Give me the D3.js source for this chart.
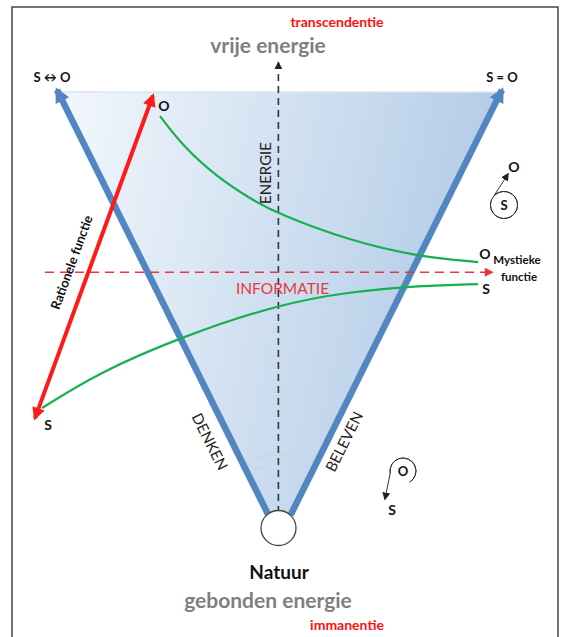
<!DOCTYPE html>
<html lang="nl">
<head>
    <meta charset="UTF-8">
    <title>Natuur - vrije en gebonden energie</title>
    <script src="https://d3js.org/d3.v7.min.js"></script>
    <style>
        body { margin: 0; background: #fff; }
        svg { display: block; font-family: Lato, "Open Sans", sans-serif; }
    </style>
</head>
<body>
    <svg width="563" height="637"></svg>

    <script>
        // Diagram units: u runs -1 (left tip) .. 1 (right tip), v runs 0 (Natuur) .. 1 (top)
        const topTitles = ["transcendentie", "vrije energie"];
        const bottomTitles = ["Natuur", "gebonden energie", "immanentie"];
        const cornerLabels = ["S \u2194 O", "S = O"];
        const sideLabels = ["DENKEN", "BELEVEN"];
        const axisLabels = ["ENERGIE", "INFORMATIE"];
        const functionLabels = ["Rationele functie", "Mystieke", "functie"];

        // green curves (u, v)
        const objectCurve = [
            [-0.537, 0.943], [-0.434, 0.872], [-0.281, 0.799], [-0.133, 0.748], [-0.007, 0.712],
            [0.317, 0.648], [0.631, 0.610], [0.892, 0.598]
        ];
        const subjectCurve = [
            [-1.067, 0.253], [-0.807, 0.338], [-0.447, 0.420], [-0.007, 0.498],
            [0.317, 0.528], [0.631, 0.542], [0.892, 0.546]
        ];
        // rational function arrow (S end, O end)
        const rationalArrow = [[-1.099, 0.229], [-0.569, 0.991]];
        const informationLevel = 0.574;
        const energyTop = 1.069;

        const svg = d3.select("svg");
        const x = d3.scaleLinear().domain([-1, 1]).range([57, 502]);
        const y = d3.scaleLinear().domain([0, 1]).range([515, 92]);

        const defs = svg.append("defs");
        const grad = defs.append("linearGradient").attr("id", "cone")
            .attr("x1", "0%").attr("x2", "100%").attr("y1", "0%").attr("y2", "20%");
        grad.append("stop").attr("offset", "0%").attr("stop-color", "#f3f8fc");
        grad.append("stop").attr("offset", "100%").attr("stop-color", "#b2cbe7");

        function marker(id, color, w, h) {
            defs.append("marker").attr("id", id)
                .attr("viewBox", "0 0 10 10").attr("refX", 8).attr("refY", 5)
                .attr("markerWidth", w).attr("markerHeight", h)
                .attr("markerUnits", "userSpaceOnUse")
                .attr("orient", "auto-start-reverse")
                .append("path").attr("d", "M0,0L10,5L0,10z").attr("fill", color);
        }
        marker("blueHead", "#5286c0", 17, 15);
        marker("redHead", "#ff1a1a", 14, 13);
        marker("blackHead", "#222", 8, 8);
        marker("dashHead", "#e8383c", 10, 9);

        // frame
        svg.append("rect").attr("x", 12).attr("y", 7).attr("width", 546).attr("height", 700)
            .attr("fill", "none").attr("stroke", "#444").attr("stroke-width", 1.5);

        // cone
        const line = d3.line().x(d => x(d[0])).y(d => y(d[1]));
        svg.append("path").attr("d", line([[-1, 1], [1, 1], [0.05, 0], [-0.05, 0]]) + "Z")
            .attr("fill", "url(#cone)");
        svg.append("path").attr("d", line([[-1, 1], [1, 1]]))
            .attr("stroke", "#dde4ec").attr("stroke-width", 1.5);

        // faint ellipse
        svg.append("ellipse").attr("cx", x(0)).attr("cy", y(0.125)).attr("rx", 33).attr("ry", 7)
            .attr("fill", "none").attr("stroke", "#c9d3de").attr("stroke-width", 1.2).attr("opacity", 0.7);

        // energy axis (dashed black)
        svg.append("path").attr("d", line([[-0.005, 0.005], [-0.005, energyTop]]))
            .attr("stroke", "#333").attr("stroke-width", 1.6).attr("stroke-dasharray", "7,5")
            .attr("marker-end", "url(#blackHead)");

        // blue side arrows
        [[-0.05, -1], [0.05, 1]].forEach(([foot, tip]) => {
            svg.append("path").attr("d", line([[foot, 0], [tip, 1.005]]))
                .attr("stroke", "#5286c0").attr("stroke-width", 6.5)
                .attr("marker-end", "url(#blueHead)");
        });

        // information level (red dashed)
        svg.append("path").attr("d", line([[-1.054, informationLevel], [0.955, informationLevel]]))
            .attr("stroke", "#e8383c").attr("stroke-width", 1.4).attr("stroke-dasharray", "9,6")
            .attr("fill", "none").attr("marker-end", "url(#dashHead)");

        // green curves
        const curve = d3.line().x(d => x(d[0])).y(d => y(d[1])).curve(d3.curveBasis);
        [objectCurve, subjectCurve].forEach(pts => {
            svg.append("path").attr("d", curve(pts)).attr("fill", "none")
                .attr("stroke", "#16b04e").attr("stroke-width", 2.2);
        });

        // red rational arrow
        svg.append("path").attr("d", line(rationalArrow))
            .attr("stroke", "#ff1a1a").attr("stroke-width", 4)
            .attr("marker-start", "url(#redHead)").attr("marker-end", "url(#redHead)");

        // Natuur circle
        svg.append("circle").attr("cx", x(0) - 1).attr("cy", y(0) + 13).attr("r", 17.5)
            .attr("fill", "#fff").attr("stroke", "#444").attr("stroke-width", 1.3);

        function label(txt, px, py, opts) {
            const o = Object.assign({ size: 13, color: "#111", weight: "bold", anchor: "middle", rotate: 0 }, opts || {});
            return svg.append("text")
                .attr("transform", `translate(${px},${py}) rotate(${o.rotate})`)
                .attr("text-anchor", o.anchor)
                .attr("font-size", o.size).attr("font-weight", o.weight)
                .attr("fill", o.color).text(txt);
        }

        // titles
        label(topTitles[0], 337, 27, { size: 14, color: "#ff1010" });
        label(topTitles[1], 268, 53, { size: 21, color: "#7f7f7f" });
        label(bottomTitles[0], 279, 579, { size: 19, color: "#111" });
        label(bottomTitles[1], 268, 608, { size: 21, color: "#7f7f7f" });
        label(bottomTitles[2], 347, 630, { size: 14, color: "#ff1010" });

        // corners
        label(cornerLabels[0], 52, 82, { size: 13 });
        label(cornerLabels[1], 502, 82, { size: 13 });

        // curve end labels
        const oEnd = objectCurve[objectCurve.length - 1], sEnd = subjectCurve[subjectCurve.length - 1];
        label("O", x(rationalArrow[1][0]) + 11, y(rationalArrow[1][1]) + 15, { size: 14 });
        label("S", x(rationalArrow[0][0]) + 13, y(rationalArrow[0][1]) + 12, { size: 14 });
        label("O", x(oEnd[0]) + 7, y(oEnd[1]) - 3, { size: 14 });
        label("S", x(sEnd[0]) + 8, y(sEnd[1]) + 10, { size: 14 });
        label(functionLabels[1], 517, 264, { size: 11.5 });
        label(functionLabels[2], 519, 281, { size: 11.5 });
        label(functionLabels[0], 76, 264, { size: 13, rotate: -70 });

        // axis labels
        label(axisLabels[0], x(0) - 9, 173, { size: 15, weight: "normal", color: "#222", rotate: -90 });
        label(axisLabels[1], x(0) + 3, y(informationLevel) + 22, { size: 15.5, weight: "normal", color: "#e8383c" });
        label(sideLabels[0], 205, 444, { size: 15, weight: "normal", color: "#222", rotate: 63.5 });
        label(sideLabels[1], 349, 444, { size: 15, weight: "normal", color: "#222", rotate: -63.5 });

        // small S/O icons
        const arc = d3.arc();
        const deg = Math.PI / 180;
        function loopIcon(cx, cy, r, startA, endA, tip, inner, outer, outerPos) {
            const g = svg.append("g");
            g.append("path").attr("transform", `translate(${cx},${cy})`)
                .attr("d", arc({ innerRadius: r, outerRadius: r, startAngle: startA, endAngle: endA }))
                .attr("fill", "none").attr("stroke", "#333").attr("stroke-width", 1);
            const sx = cx + r * Math.sin(endA), sy = cy - r * Math.cos(endA);
            g.append("path").attr("d", `M${sx},${sy}L${tip[0]},${tip[1]}`)
                .attr("stroke", "#333").attr("stroke-width", 1).attr("marker-end", "url(#blackHead)");
            label(inner, cx, cy + 5, { size: 13 });
            label(outer, outerPos[0], outerPos[1], { size: 14 });
        }
        loopIcon(504, 205, 13.5, 315 * deg, 655 * deg, [508, 174], "S", "O", [514, 172]);
        loopIcon(403, 471, 13, 150 * deg, -100 * deg, [385, 499], "O", "S", [392, 515]);
    </script>
</body>
</html>
